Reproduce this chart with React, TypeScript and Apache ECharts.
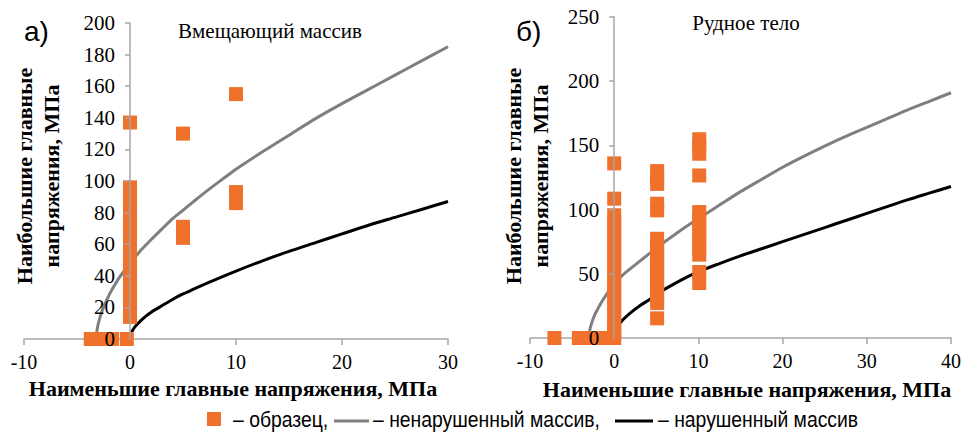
import React, { useEffect, useRef } from "react";
import * as echarts from "echarts";

// ---------- data ----------
// a) Вмещающий массив
const leftSamples: [number, number][] = [
  [-3.7, 0], [-3.2, 0], [-2.7, 0], [-2.2, 0], [-1.7, 0], [-0.3, 0],
  [0, 137],
  [0, 96], [0, 93], [0, 89], [0, 84], [0, 80], [0, 75], [0, 70], [0, 66], [0, 61], [0, 57],
  [0, 52], [0, 47], [0, 43], [0, 38], [0, 33], [0, 29], [0, 24], [0, 19], [0, 14],
  [5, 130], [5, 71], [5, 64],
  [10, 155], [10, 93], [10, 86],
];
const leftIntact: [number, number][] = [
  [-3.2, 0], [-3.1, 6], [-3, 9.5], [-2.75, 15.5], [-2.5, 20], [-2, 27.5], [-1.5, 33.5],
  [-1, 39], [-0.5, 43.5], [0, 48], [0.5, 52], [1, 56], [1.5, 59.5], [2, 63], [3, 69.5],
  [4, 76], [5, 81.5], [6, 87], [7.5, 95], [9, 102.5], [10, 107.5], [12.5, 118.5], [15, 129],
  [17.5, 139.5], [20, 149], [22.5, 158], [25, 167], [27.5, 176], [30, 185],
];
const leftDisturbed: [number, number][] = [
  [0, 0], [0.1, 3.5], [0.25, 5.5], [0.5, 8], [1, 11.5], [1.5, 14.5], [2, 17], [3, 21],
  [4, 25], [5, 28.5], [6, 31.5], [7.5, 36], [10, 43], [12.5, 49.5], [15, 55.5], [17.5, 61],
  [20, 66.5], [22.5, 72], [25, 77], [27.5, 82], [30, 87],
];

// б) Рудное тело
const rightSamples: [number, number][] = [
  [-7.1, 0], [-4.2, 0], [-3.5, 0], [-2.8, 0], [-2.1, 0], [-1.4, 0], [-0.7, 0], [0, 0],
  [0, 136], [0, 108.5],
  [0, 95.6], [0, 90], [0, 84], [0, 79], [0, 73], [0, 68], [0, 62], [0, 57], [0, 51],
  [0, 46], [0, 40], [0, 35], [0, 29], [0, 24], [0, 18], [0, 13], [0, 7], [0, 3],
  [5.1, 130], [5.1, 125], [5.1, 120], [5.1, 104.6], [5.1, 99.4],
  [5.1, 77.3], [5.1, 72], [5.1, 66], [5.1, 61], [5.1, 55], [5.1, 50], [5.1, 44],
  [5.1, 39], [5.1, 33], [5.1, 27.3], [5.1, 15.3],
  [10.1, 154.8], [10.1, 149], [10.1, 143.5], [10.1, 126.6],
  [10.1, 98.1], [10.1, 93], [10.1, 87], [10.1, 82], [10.1, 76], [10.1, 70], [10.1, 64.9],
  [10.1, 51.4], [10.1, 42.8],
];
const rightIntact: [number, number][] = [
  [-3, 0], [-2.9, 6], [-2.75, 10], [-2.5, 15], [-2.2, 19.5], [-2, 22], [-1.5, 28], [-1, 33],
  [-0.5, 38], [0, 42], [1, 49], [2.5, 57], [5, 70], [7.5, 82], [10, 93], [12.5, 103.5],
  [15, 114], [17.5, 123.5], [20, 133], [22.5, 141.5], [25, 149.5], [27.5, 157], [30, 164],
  [32.5, 171], [35, 178], [37.5, 184.5], [40, 191],
];
const rightDisturbed: [number, number][] = [
  [0, 0], [0.1, 4], [0.3, 7], [0.5, 9.5], [1, 14], [2, 20], [3, 25], [4.2, 30], [5, 34],
  [7.5, 43.5], [10, 51.6], [12.5, 58], [15, 64], [17.5, 69.5], [20, 75], [22.5, 80.5],
  [25, 86], [27.5, 91.5], [30, 97], [32.5, 102.5], [35, 108], [37.5, 113], [40, 118],
];

const panelLetters = ["а)", "б)"];
const panelTitles = ["Вмещающий массив", "Рудное тело"];
const xAxisTitle = "Наименьшие главные напряжения, МПа";
const yAxisTitle = "Наибольшие главные\nнапряжения, МПа";
const legendTexts = ["– образец,", "– ненарушенный массив,", "– нарушенный массив"];

const leftX = { min: -10, max: 30, interval: 10 };
const leftY = { min: 0, max: 200, interval: 20 };
const rightX = { min: -10, max: 40, interval: 10 };
const rightY = { min: 0, max: 250, interval: 50 };

// ---------- styles / layout ----------
const ORANGE = "#F0712C";
const GRAY = "#7F7F7F";
const AXIS = "#A6A6A6";
const SERIF = '"Liberation Serif", "Times New Roman", serif';
const SANS = '"Liberation Sans", Arial, sans-serif';
const Y_LABEL_SIZE = 21;
const Y_LABEL_MARGIN = 15;

const LEFT_GRID = { left: 24, right: 516, top: 23, bottom: 93 };
const RIGHT_GRID = { left: 530, right: 13, top: 17, bottom: 94 };
const W = 964;

// y axis sits on x = 0: shift it from the grid's left edge by the x-distance from min to 0
function zeroOffset(g: { left: number; right: number }, r: { min: number; max: number }) {
  const width = W - g.left - g.right;
  return -((0 - r.min) / (r.max - r.min)) * width;
}

function xAxisOf(idx: number, r: { min: number; max: number; interval: number }) {
  return {
    type: "value",
    gridIndex: idx,
    min: r.min,
    max: r.max,
    interval: r.interval,
    z: 1,
    axisLine: { show: true, onZero: false, lineStyle: { color: AXIS, width: 1.5 } },
    axisTick: { show: true, length: 6, lineStyle: { color: AXIS, width: 1.5 } },
    splitLine: { show: false },
    axisLabel: { color: "#000", fontFamily: SERIF, fontSize: 20, margin: 13, showMinLabel: true, showMaxLabel: true },
  };
}
function yAxisOf(idx: number, r: { min: number; max: number; interval: number }, offset: number) {
  return {
    type: "value",
    gridIndex: idx,
    min: r.min,
    max: r.max,
    interval: r.interval,
    offset,
    z: 20,
    axisLine: { show: true, onZero: false, lineStyle: { color: AXIS, width: 1.5 } },
    axisTick: { show: true, length: 5, lineStyle: { color: AXIS, width: 1.5 } },
    splitLine: { show: false },
    axisLabel: {
      color: "#000", fontFamily: SERIF, fontSize: Y_LABEL_SIZE, margin: Y_LABEL_MARGIN,
      showMinLabel: false, showMaxLabel: true, hideOverlap: false,
    },
  };
}
function lineSeries(name: string, idx: number, data: [number, number][], color: string) {
  return {
    name,
    type: "line",
    xAxisIndex: idx,
    yAxisIndex: idx,
    data,
    smooth: 0.25,
    symbol: "none",
    lineStyle: { color, width: 3 },
    z: 2,
  };
}
function sampleSeries(idx: number, data: [number, number][]) {
  return {
    name: "образец",
    type: "scatter",
    xAxisIndex: idx,
    yAxisIndex: idx,
    data,
    symbol: "rect",
    symbolSize: 14,
    itemStyle: { color: ORANGE, opacity: 1 },
    z: 3,
  };
}

export default function App() {
  const ref = useRef<HTMLDivElement>(null);
  useEffect(() => {
    if (!ref.current) return;
    const chart = echarts.init(ref.current, undefined, { renderer: "svg" });
    const titleFont = "21px " + SERIF;
    const axisTitleFont = "bold 22px " + SERIF;
    const legendFont = "22px " + SANS;
    chart.setOption({
      animation: false,
      backgroundColor: "#fff",
      grid: [
        { ...LEFT_GRID, containLabel: false, outerBoundsMode: "none" },
        { ...RIGHT_GRID, containLabel: false, outerBoundsMode: "none" },
      ],
      xAxis: [xAxisOf(0, leftX), xAxisOf(1, rightX)],
      yAxis: [
        yAxisOf(0, leftY, zeroOffset(LEFT_GRID, leftX)),
        yAxisOf(1, rightY, zeroOffset(RIGHT_GRID, rightX)),
      ],
      series: [
        lineSeries("ненарушенный массив", 0, leftIntact, GRAY),
        lineSeries("нарушенный массив", 0, leftDisturbed, "#000"),
        sampleSeries(0, leftSamples),
        lineSeries("ненарушенный массив", 1, rightIntact, GRAY),
        lineSeries("нарушенный массив", 1, rightDisturbed, "#000"),
        sampleSeries(1, rightSamples),
      ],
    });

    // the y-axis min tick label ("0") lies over the markers at the axes' crossing:
    // place it through the chart's own scale, on top of everything
    const zeroLabels = [
      { idx: 0, y: leftY.min },
      { idx: 1, y: rightY.min },
    ].map(({ idx, y }) => {
      const p = chart.convertToPixel({ xAxisIndex: idx, yAxisIndex: idx }, [0, y]) as number[];
      return {
        type: "text",
        z: 100,
        x: p[0] - Y_LABEL_MARGIN,
        y: p[1],
        style: {
          text: String(y),
          font: Y_LABEL_SIZE + "px " + SERIF,
          fill: "#000",
          textAlign: "right",
          textVerticalAlign: "middle",
        },
      };
    });

    chart.setOption({
      graphic: [
        ...zeroLabels,
        { type: "text", x: 24, y: 31, style: { text: panelLetters[0], font: "28px " + SANS, fill: "#000", textAlign: "left", textVerticalAlign: "middle" } },
        { type: "text", x: 516, y: 31, style: { text: panelLetters[1], font: "28px " + SANS, fill: "#000", textAlign: "left", textVerticalAlign: "middle" } },
        { type: "text", x: 270, y: 31, style: { text: panelTitles[0], font: titleFont, fill: "#000", textAlign: "center", textVerticalAlign: "middle" } },
        { type: "text", x: 746, y: 23, style: { text: panelTitles[1], font: titleFont, fill: "#000", textAlign: "center", textVerticalAlign: "middle" } },
        { type: "text", x: 233, y: 388, style: { text: xAxisTitle, font: axisTitleFont, fill: "#000", textAlign: "center", textVerticalAlign: "middle" } },
        { type: "text", x: 747, y: 389, style: { text: xAxisTitle, font: axisTitleFont, fill: "#000", textAlign: "center", textVerticalAlign: "middle" } },
        { type: "text", x: 38, y: 176, rotation: Math.PI / 2, style: { text: yAxisTitle, font: axisTitleFont, lineHeight: 27, fill: "#000", textAlign: "center", textVerticalAlign: "middle" } },
        { type: "text", x: 527, y: 176, rotation: Math.PI / 2, style: { text: yAxisTitle, font: axisTitleFont, lineHeight: 27, fill: "#000", textAlign: "center", textVerticalAlign: "middle" } },
        // legend
        { type: "rect", shape: { x: 207, y: 412, width: 14, height: 14 }, style: { fill: ORANGE } },
        { type: "text", x: 233, y: 419, scaleX: 0.88, style: { text: legendTexts[0], font: legendFont, fill: "#000", textAlign: "left", textVerticalAlign: "middle" } },
        { type: "line", shape: { x1: 334, y1: 421, x2: 369, y2: 421 }, style: { stroke: GRAY, lineWidth: 3 } },
        { type: "text", x: 373, y: 419, scaleX: 0.88, style: { text: legendTexts[1], font: legendFont, fill: "#000", textAlign: "left", textVerticalAlign: "middle" } },
        { type: "line", shape: { x1: 615, y1: 421, x2: 653, y2: 421 }, style: { stroke: "#000", lineWidth: 3 } },
        { type: "text", x: 658, y: 419, scaleX: 0.88, style: { text: legendTexts[2], font: legendFont, fill: "#000", textAlign: "left", textVerticalAlign: "middle" } },
      ],
    });
    return () => chart.dispose();
  }, []);
  return (
    <div
      ref={ref}
      style={{ position: "fixed", left: 0, top: 0, width: 964, height: 432, background: "#fff" }}
    />
  );
}
